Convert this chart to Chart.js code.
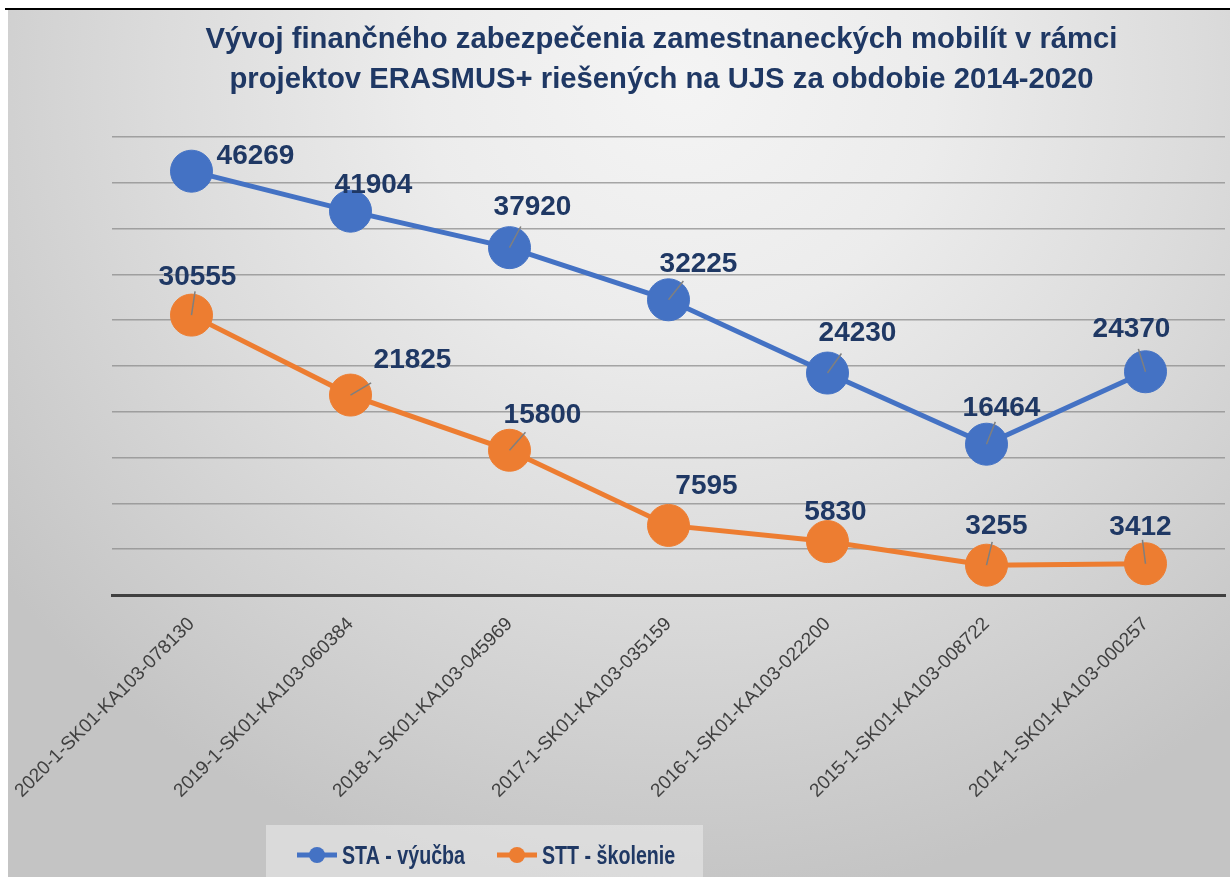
<!DOCTYPE html>
<html>
<head>
<meta charset="utf-8">
<script src="https://cdn.jsdelivr.net/npm/chart.js@4.4.0/dist/chart.umd.min.js"></script>
<style>
  html, body { margin: 0; padding: 0; background: #fff; }
  body { width: 1230px; height: 877px; position: relative; overflow: hidden; }
  #rule { position: absolute; left: 5px; right: 0; top: 8px; height: 2px; background: #000; }
  #wrap {
    position: absolute; left: 8px; top: 10px; width: 1222px; height: 867px;
    background: radial-gradient(ellipse 70% 95% at 55% 8%, #f4f4f4 0%, #ececec 30%, #dcdcdc 60%, #cacaca 90%, #c4c4c4 100%);
  }
  #chart { display: block; }
</style>
</head>
<body>
<div id="rule"></div>
<div id="wrap"><canvas id="chart" width="1222" height="867"></canvas></div>
<script>
// data
const projects = [
  '2020-1-SK01-KA103-078130',
  '2019-1-SK01-KA103-060384',
  '2018-1-SK01-KA103-045969',
  '2017-1-SK01-KA103-035159',
  '2016-1-SK01-KA103-022200',
  '2015-1-SK01-KA103-008722',
  '2014-1-SK01-KA103-000257'
];
const staValues = [46269, 41904, 37920, 32225, 24230, 16464, 24370];
const sttValues = [30555, 21825, 15800, 7595, 5830, 3255, 3412];
const seriesNames = ['STA - výučba', 'STT - školenie'];
const titleLines = [
  'Vývoj finančného zabezpečenia zamestnaneckých mobilít v rámci',
  'projektov ERASMUS+ riešených na UJS za obdobie 2014-2020'
];
const yMax = 50000;
const yStep = 5000;

// where each value label sits relative to its marker [dx, dy, leader line]
const labelPlacement = [
  [[64, -17, false], [23, -28, false], [23, -43, true], [30, -38, true], [30, -42, true], [15, -38, true], [-14, -45, true]],
  [[6, -40, true], [62, -37, true], [33, -37, true], [38, -41, false], [8, -32, false], [10, -41, true], [-5, -39, true]]
];

const NAVY = '#1f3864';
const FONT = "'Liberation Sans', Arial, sans-serif";
const colors = ['#4472C4', '#ED7D31'];

const decorations = {
  id: 'decorations',
  afterDatasetsDraw(chart) {
    const ctx = chart.ctx;
    ctx.save();
    chart.data.datasets.forEach((ds, di) => {
      const meta = chart.getDatasetMeta(di);
      meta.data.forEach((pt, i) => {
        const [dx, dy, leader] = labelPlacement[di][i];
        if (leader) {
          const len = Math.hypot(dx, dy);
          const l = Math.min(24, len - 12);
          ctx.strokeStyle = '#7f7f7f';
          ctx.lineWidth = 1.5;
          ctx.beginPath();
          ctx.moveTo(pt.x, pt.y);
          ctx.lineTo(pt.x + dx / len * l, pt.y + dy / len * l);
          ctx.stroke();
        }
        ctx.font = 'bold 28px ' + FONT;
        ctx.fillStyle = NAVY;
        ctx.textAlign = 'center';
        ctx.textBaseline = 'alphabetic';
        ctx.fillText(String(ds.data[i]), pt.x + dx, pt.y + dy + 10);
      });
    });
    ctx.restore();
  },
  afterDraw(chart) {
    const ctx = chart.ctx;
    const area = chart.chartArea;

    // title (squeezed a little, the original is in a narrow font)
    ctx.save();
    ctx.font = 'bold 30px ' + FONT;
    ctx.fillStyle = NAVY;
    ctx.textAlign = 'center';
    ctx.textBaseline = 'alphabetic';
    const k = Math.min(1, 912 / ctx.measureText(titleLines[0]).width);
    ctx.translate((area.left + area.right) / 2 - 7, 0);
    ctx.scale(k, 1);
    titleLines.forEach((line, i) => ctx.fillText(line, 0, 38 + i * 40));
    ctx.restore();

    // legend
    ctx.save();
    const boxX = 258, boxY = 815, boxW = 437;
    ctx.fillStyle = 'rgba(240,240,240,0.5)';
    ctx.fillRect(boxX, boxY, boxW, chart.height - boxY);
    ctx.font = 'bold 25px ' + FONT;
    const lk = 123 / ctx.measureText(seriesNames[0]).width;
    let x = boxX + 31;
    const y = 845;
    chart.data.datasets.forEach((ds) => {
      ctx.strokeStyle = ds.borderColor;
      ctx.lineWidth = 5;
      ctx.beginPath();
      ctx.moveTo(x, y);
      ctx.lineTo(x + 40, y);
      ctx.stroke();
      ctx.fillStyle = ds.borderColor;
      ctx.beginPath();
      ctx.arc(x + 20, y, 8, 0, Math.PI * 2);
      ctx.fill();
      const w = ctx.measureText(ds.label).width * lk;
      ctx.save();
      ctx.translate(x + 45, y + 9);
      ctx.scale(lk, 1);
      ctx.fillStyle = NAVY;
      ctx.textAlign = 'left';
      ctx.textBaseline = 'alphabetic';
      ctx.fillText(ds.label, 0, 0);
      ctx.restore();
      x += 45 + w + 32;
    });
    ctx.restore();
  }
};

const ctx = document.getElementById('chart').getContext('2d');
new Chart(ctx, {
  type: 'line',
  data: {
    labels: projects,
    datasets: [staValues, sttValues].map((vals, i) => ({
      label: seriesNames[i],
      data: vals,
      borderColor: colors[i],
      backgroundColor: colors[i],
      borderWidth: 5,
      pointRadius: 21,
      pointBorderWidth: 1,
      pointBackgroundColor: colors[i],
      pointBorderColor: colors[i],
      tension: 0,
      clip: false
    }))
  },
  options: {
    responsive: false,
    animation: false,
    events: [],
    layout: { autoPadding: false, padding: { top: 127, right: 5, left: 0, bottom: 0 } },
    plugins: {
      legend: { display: false },
      title: { display: false },
      tooltip: { enabled: false }
    },
    scales: {
      x: {
        offset: true,
        grid: { display: false, drawTicks: false },
        border: { display: true, color: '#404040', width: 3 },
        ticks: {
          autoSkip: false,
          minRotation: 45,
          maxRotation: 45,
          padding: 18,
          color: '#404040',
          font: { family: FONT, size: 19 }
        },
        afterFit(scale) {
          scale.height = 282;
          scale.paddingLeft = 0;
          scale.paddingRight = 0;
        }
      },
      y: {
        min: 0,
        max: yMax,
        ticks: { display: false, stepSize: yStep },
        grid: { color: 'rgba(140,140,140,0.75)', lineWidth: 1.5, drawTicks: false },
        border: { display: false },
        afterFit(scale) { scale.width = 104; }
      }
    }
  },
  plugins: [decorations]
});
</script>
</body>
</html>
